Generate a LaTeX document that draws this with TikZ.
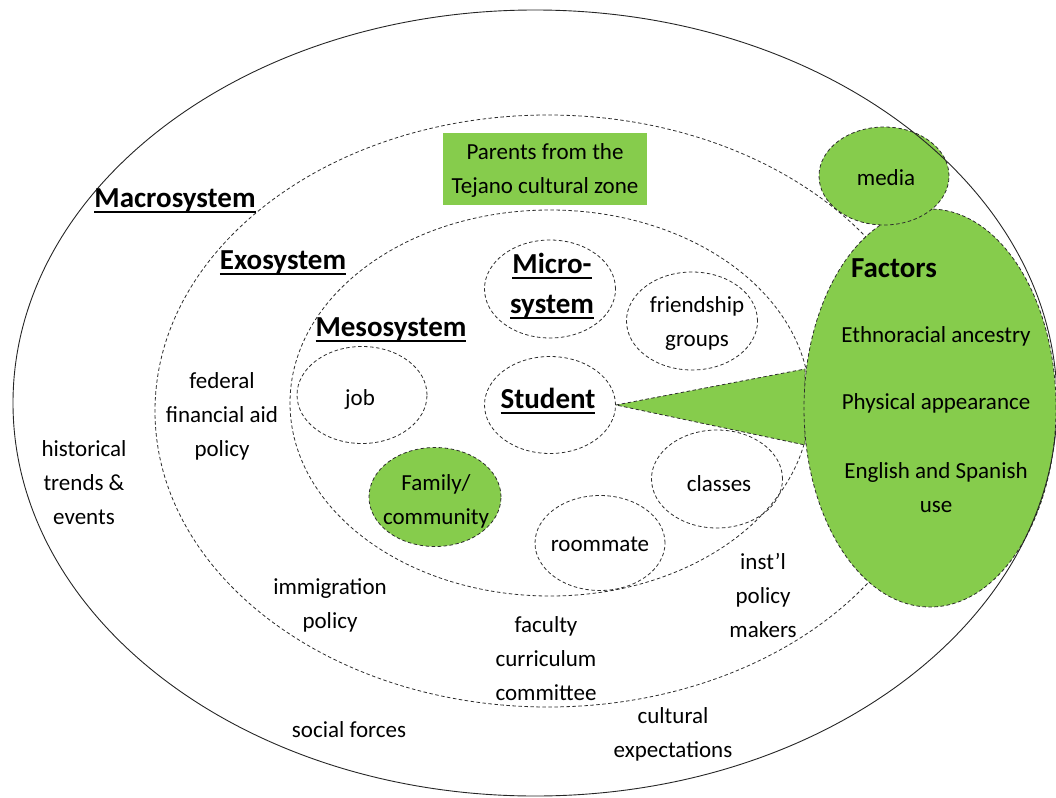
\documentclass[tikz,border=0pt]{standalone}
\usepackage{fontspec}
\setmainfont{Carlito}
\usetikzlibrary{shapes.geometric}
\definecolor{lgreen}{RGB}{134,204,76}
\definecolor{dline}{RGB}{45,45,45}
\newcommand\ulb[1]{\setbox0=\hbox{#1}\rlap{\rule[-6pt]{\wd0}{1.8pt}}\box0}
\begin{document}
\begin{tikzpicture}[x=1pt,y=-1pt,
  dashell/.style={ellipse, draw=dline, dash pattern=on 3.5pt off 2.5pt, line width=0.8pt, inner sep=0pt},
  dashline/.style={draw=dline, dash pattern=on 3.5pt off 2.5pt, line width=0.8pt},
  txt/.style={font=\fontsize{23}{34}\selectfont, align=center, inner sep=0pt},
  btxt/.style={font=\fontsize{29}{40}\selectfont\bfseries, align=center, inner sep=0pt, anchor=base}]
\useasboundingbox (0,0) rectangle (1056,797);
% system ellipses
\node[dashell, minimum width=786, minimum height=592] (exo) at (548,411) {};
\node[dashell, minimum width=520, minimum height=386] (meso) at (550,403) {};
% small ellipses
\node[dashell, minimum width=131, minimum height=98] (micro) at (550,289) {};
\node[dashell, minimum width=131, minimum height=97] (student) at (550,405) {};
\node[dashell, minimum width=130, minimum height=97] (job) at (362,395) {};
\node[dashell, fill=lgreen, minimum width=132, minimum height=99] (family) at (435,497) {};
\node[dashell, minimum width=131, minimum height=98] (friend) at (692,321) {};
\node[dashell, minimum width=131, minimum height=98] (classes) at (717,479) {};
\node[dashell, minimum width=130, minimum height=95] (roommate) at (600,543) {};
% parents box
\node[fill=lgreen, minimum width=204, minimum height=72, inner sep=0pt] (parents) at (545,169) {};
% wedge
\coordinate (wtop) at (805,369);
\coordinate (wbot) at (805,445);
\path[fill=lgreen, dashline] (student.east) -- (wtop) -- (wbot) -- cycle;
% factors and media
\node[dashell, fill=lgreen, minimum width=252, minimum height=398] (factors) at (930,408) {};
\node[dashell, fill=lgreen, minimum width=130, minimum height=98] (media) at (884,176) {};
% macrosystem outer ellipse
\node[ellipse, draw=black!85, line width=0.9pt, minimum width=1044, minimum height=786, inner sep=0pt] (macro) at (535,403) {};
% bold labels
\node[btxt] (lmacro) at (175,207) {\ulb{Macrosystem}};
\node[btxt] (lexo) at (283,269) {\ulb{Exosystem}};
\node[btxt] (lmeso) at (391,336) {\ulb{Mesosystem}};
\node[btxt] (lmicro1) at (552,273) {\ulb{Micro-}};
\node[btxt] (lmicro2) at (552,313) {\ulb{system}};
\node[btxt] (lstudent) at (548,408) {\ulb{Student}};
\node[btxt] (lfactors) at (894,277) {Factors};
% plain labels
\node[txt] (tparents) at (545,170) {Parents from the\\Tejano cultural zone};
\node[txt] (tmedia) at (886,178) {media};
\node[txt] (teth) at (936,336) {Ethnoracial ancestry};
\node[txt] (tphys) at (936,403) {Physical appearance};
\node[txt] (teng) at (936,488) {English and Spanish\\use};
\node[txt] (tfriend) at (697,323) {friendship\\groups};
\node[txt] (tjob) at (360,399) {job};
\node[txt] (tfamily) at (436,501) {Family/\\community};
\node[txt] (tclasses) at (719,484) {classes};
\node[txt] (troom) at (600,544) {roommate};
\node[txt] (tfederal) at (222,416) {federal\\financial aid\\policy};
\node[txt] (thist) at (84,483) {historical\\trends \&\\events};
\node[txt] (timm) at (330,605) {immigration\\policy};
\node[txt] (tfac) at (546,659) {faculty\\curriculum\\committee};
\node[txt] (tinst) at (763,595) {inst’l\\policy\\makers};
\node[txt] (tsocial) at (349,730) {social forces};
\node[txt] (tcult) at (673,734) {cultural\\expectations};
\end{tikzpicture}
\end{document}
